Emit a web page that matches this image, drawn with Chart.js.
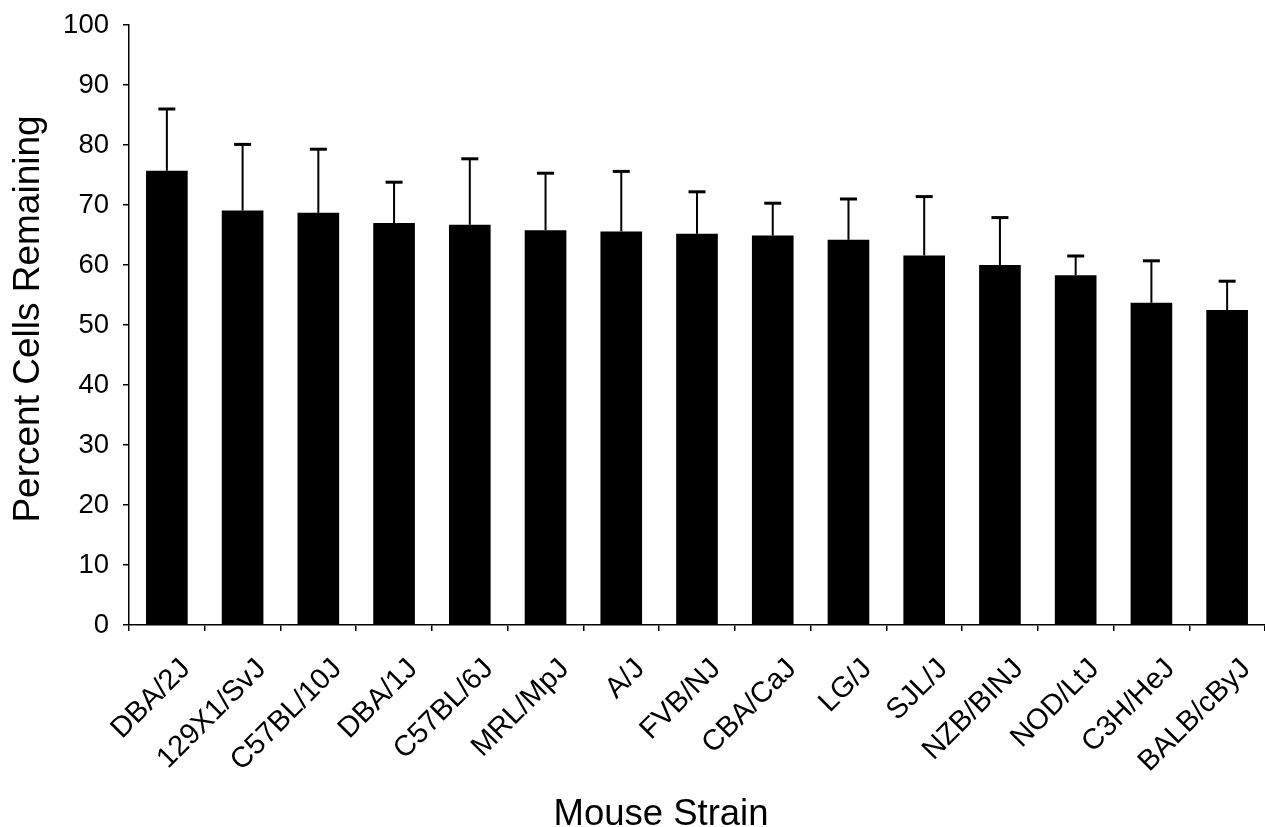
<!DOCTYPE html>
<html>
<head>
<meta charset="utf-8">
<script src="https://cdn.jsdelivr.net/npm/chart.js@4"></script>
<style>
  html, body { margin: 0; padding: 0; background: #fff; }
  #wrap { width: 1265px; height: 827px; }
</style>
</head>
<body>
<div id="wrap"><canvas id="barChart"></canvas></div>
<script>
// Mouse strains, mean percent of cells remaining and the upward error (SD)
var strains = ['DBA/2J', '129X1/SvJ', 'C57BL/10J', 'DBA/1J', 'C57BL/6J', 'MRL/MpJ', 'A/J',
    'FVB/NJ', 'CBA/CaJ', 'LG/J', 'SJL/J', 'NZB/BINJ', 'NOD/LtJ', 'C3H/HeJ', 'BALB/cByJ'];
var percentRemaining = [75.7, 69.1, 68.7, 67.0, 66.7, 65.8, 65.6, 65.2, 64.9, 64.2, 61.6, 60.0, 58.3, 53.7, 52.5];
var errorSD = [10.3, 11.0, 10.6, 6.8, 11.0, 9.5, 10.0, 7.0, 5.4, 6.8, 9.8, 7.9, 3.2, 7.0, 4.8];
var yTicks = [0, 10, 20, 30, 40, 50, 60, 70, 80, 90, 100];
var xTitle = 'Mouse Strain';
var yTitle = 'Percent Cells Remaining';

var FONT = '"Liberation Sans", Arial, Helvetica, sans-serif';

// ------------------------------------------------------- //
// Error bars (upper half only, with a cap)
// ------------------------------------------------------ //
var errorBars = {
    id: 'errorBars',
    afterDatasetsDraw: function (chart) {
        var ctx = chart.ctx;
        var yScale = chart.scales.y;
        var meta = chart.getDatasetMeta(0);
        ctx.save();
        ctx.strokeStyle = '#000';
        meta.data.forEach(function (bar, i) {
            var top = yScale.getPixelForValue(percentRemaining[i] + errorSD[i]);
            ctx.lineWidth = 2;
            ctx.beginPath();
            ctx.moveTo(bar.x, bar.y);
            ctx.lineTo(bar.x, top);
            ctx.stroke();
            ctx.lineWidth = 3;
            ctx.beginPath();
            ctx.moveTo(bar.x - 8.5, top);
            ctx.lineTo(bar.x + 8.5, top);
            ctx.stroke();
        });
        ctx.restore();
    }
};

// axis titles: both sit a little off the plot centre in the original
var axisTitles = {
    id: 'axisTitles',
    afterDraw: function (chart) {
        var ctx = chart.ctx;
        ctx.save();
        ctx.fillStyle = '#000';
        ctx.textAlign = 'center';
        ctx.textBaseline = 'alphabetic';
        ctx.font = '36.5px ' + FONT;
        ctx.fillText(xTitle, 661, 825);
        ctx.translate(39, 319);
        ctx.rotate(-Math.PI / 2);
        ctx.font = '37px ' + FONT;
        ctx.fillText(yTitle, 0, 0);
        ctx.restore();
    }
};

var chart = new Chart(document.getElementById('barChart'), {
    type: 'bar',
    data: {
        labels: strains,
        datasets: [{
            label: 'Percent Cells Remaining',
            data: percentRemaining,
            backgroundColor: '#000',
            borderWidth: 0,
            barPercentage: 0.55,
            categoryPercentage: 1.0
        }]
    },
    plugins: [errorBars, axisTitles],
    options: {
        responsive: true,
        maintainAspectRatio: false,
        animation: false,
        layout: { padding: { top: 25, right: 0, left: 0, bottom: 0 } },
        plugins: {
            legend: { display: false },
            tooltip: { enabled: false }
        },
        scales: {
            x: {
                afterFit: function (axis) {
                    axis.height = 202;
                    axis.paddingRight = 0;
                    axis.paddingLeft = 0;
                },
                border: { color: '#000', width: 1.5 },
                grid: {
                    offset: true,
                    drawOnChartArea: false,
                    color: '#000',
                    lineWidth: 1.5,
                    tickLength: 6
                },
                ticks: {
                    autoSkip: false,
                    minRotation: 45,
                    maxRotation: 45,
                    labelOffset: 19,
                    padding: 21,
                    color: '#000',
                    font: { family: FONT, size: 29 }
                }
            },
            y: {
                min: 0,
                max: 100,
                afterFit: function (axis) {
                    axis.width = 129;
                    axis.paddingTop = 0;
                    axis.paddingBottom = 0;
                },
                afterBuildTicks: function (axis) {
                    axis.ticks = yTicks.map(function (v) { return { value: v }; });
                },
                border: { color: '#000', width: 1.5 },
                grid: {
                    drawOnChartArea: false,
                    color: '#000',
                    lineWidth: 1.5,
                    tickLength: 6
                },
                ticks: {
                    padding: 14,
                    color: '#000',
                    font: { family: FONT, size: 27.5 }
                }
            }
        }
    }
});
</script>
</body>
</html>
